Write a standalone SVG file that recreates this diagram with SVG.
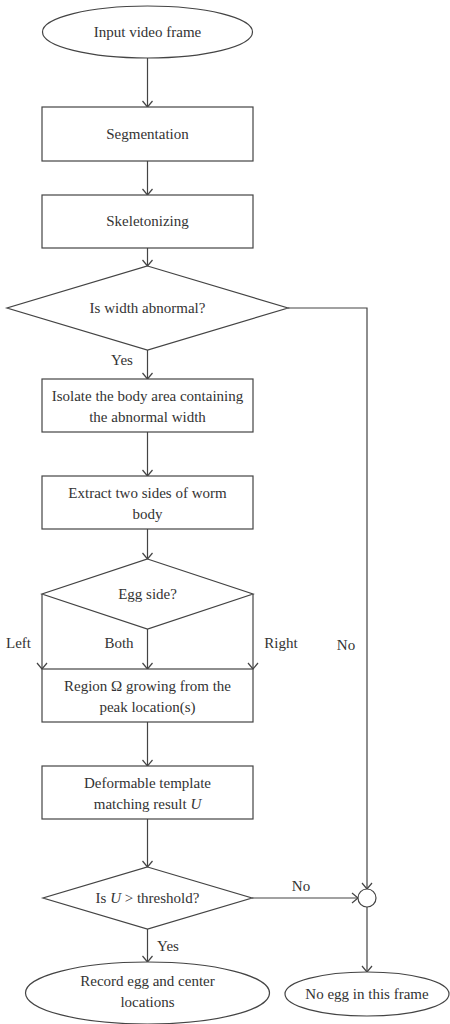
<svg xmlns="http://www.w3.org/2000/svg" width="450" height="1024" viewBox="0 0 450 1024">
<style>
.s{fill:#fff;stroke:#444;stroke-width:1.2}
.c{fill:none;stroke:#444;stroke-width:1.2}
text{font-family:'Liberation Serif','DejaVu Serif','Times New Roman',serif;font-size:15px;fill:#333;text-anchor:middle}
.l{text-anchor:start}
</style>
<defs>
<marker id="a" markerWidth="12" markerHeight="12" refX="10" refY="6" orient="auto" markerUnits="userSpaceOnUse">
<path d="M4,1 L10,6 L4,11" fill="none" stroke="#444" stroke-width="1.2"/>
</marker>
</defs>
<rect width="450" height="1024" fill="#fff"/>
<g id="connectors" font-family="Liberation Serif, serif">
<line class="c" x1="147.5" y1="58" x2="147.5" y2="107" marker-end="url(#a)"/>
<line class="c" x1="147.5" y1="161" x2="147.5" y2="195" marker-end="url(#a)"/>
<line class="c" x1="147.5" y1="248" x2="147.5" y2="266" marker-end="url(#a)"/>
<line class="c" x1="147.5" y1="350" x2="147.5" y2="379" marker-end="url(#a)"/>
<line class="c" x1="147.5" y1="432" x2="147.5" y2="476" marker-end="url(#a)"/>
<line class="c" x1="147.5" y1="529" x2="147.5" y2="559" marker-end="url(#a)"/>
<line class="c" x1="42" y1="594" x2="42" y2="669" marker-end="url(#a)"/>
<line class="c" x1="147.5" y1="629" x2="147.5" y2="669" marker-end="url(#a)"/>
<line class="c" x1="253" y1="594" x2="253" y2="669" marker-end="url(#a)"/>
<line class="c" x1="147.5" y1="722" x2="147.5" y2="766" marker-end="url(#a)"/>
<line class="c" x1="147.5" y1="819" x2="147.5" y2="867" marker-end="url(#a)"/>
<polyline class="c" points="288,308 367,308 367,889" marker-end="url(#a)"/>
<line class="c" x1="252" y1="898" x2="358" y2="898" marker-end="url(#a)"/>
<line class="c" x1="367" y1="907" x2="367" y2="972" marker-end="url(#a)"/>
<line class="c" x1="147.5" y1="929" x2="147.5" y2="962" marker-end="url(#a)"/>
<text x="122" y="365">Yes</text>
<text class="l" x="6" y="648">Left</text>
<text x="119" y="648">Both</text>
<text x="281" y="648">Right</text>
<text x="346" y="650">No</text>
<text x="301" y="891">No</text>
<text x="168" y="951">Yes</text>
</g>
<g id="n1"><ellipse class="s" cx="147.5" cy="32" rx="105" ry="26"/><text x="147.5" y="37">Input video frame</text></g>
<g id="n2"><rect class="s" x="42" y="107" width="211" height="54"/><text x="147.5" y="139">Segmentation</text></g>
<g id="n3"><rect class="s" x="42" y="195" width="211" height="53"/><text x="147.5" y="226">Skeletonizing</text></g>
<g id="n4"><polygon class="s" points="147.5,266 288,308 147.5,350 7,308"/><text x="147.5" y="313">Is width abnormal?</text></g>
<g id="n5"><rect class="s" x="42" y="379" width="211" height="53"/><text x="147.5" y="401">Isolate the body area containing</text><text x="147.5" y="422">the abnormal width</text></g>
<g id="n6"><rect class="s" x="42" y="476" width="211" height="53"/><text x="147.5" y="498">Extract two sides of worm</text><text x="147.5" y="519">body</text></g>
<g id="n7"><polygon class="s" points="147.5,559 253,594 147.5,629 42,594"/><text x="147.5" y="599">Egg side?</text></g>
<g id="n8"><rect class="s" x="42" y="669" width="211" height="53"/><text x="147.5" y="691">Region Ω growing from the</text><text x="147.5" y="712">peak location(s)</text></g>
<g id="n9"><rect class="s" x="42" y="766" width="211" height="53"/><text x="147.5" y="788">Deformable template</text><text x="147.5" y="809">matching result <tspan font-style="italic">U</tspan></text></g>
<g id="n10"><polygon class="s" points="147.5,867 252,898 147.5,929 43,898"/><text x="147.5" y="903">Is <tspan font-style="italic">U</tspan> &gt; threshold?</text></g>
<g id="n11"><circle class="s" cx="367" cy="898" r="9"/></g>
<g id="n12"><ellipse class="s" cx="147.5" cy="993" rx="122" ry="31"/><text x="147.5" y="986">Record egg and center</text><text x="147.5" y="1007">locations</text></g>
<g id="n13"><ellipse class="s" cx="367" cy="994" rx="82" ry="22"/><text x="367" y="999">No egg in this frame</text></g>
</svg>
